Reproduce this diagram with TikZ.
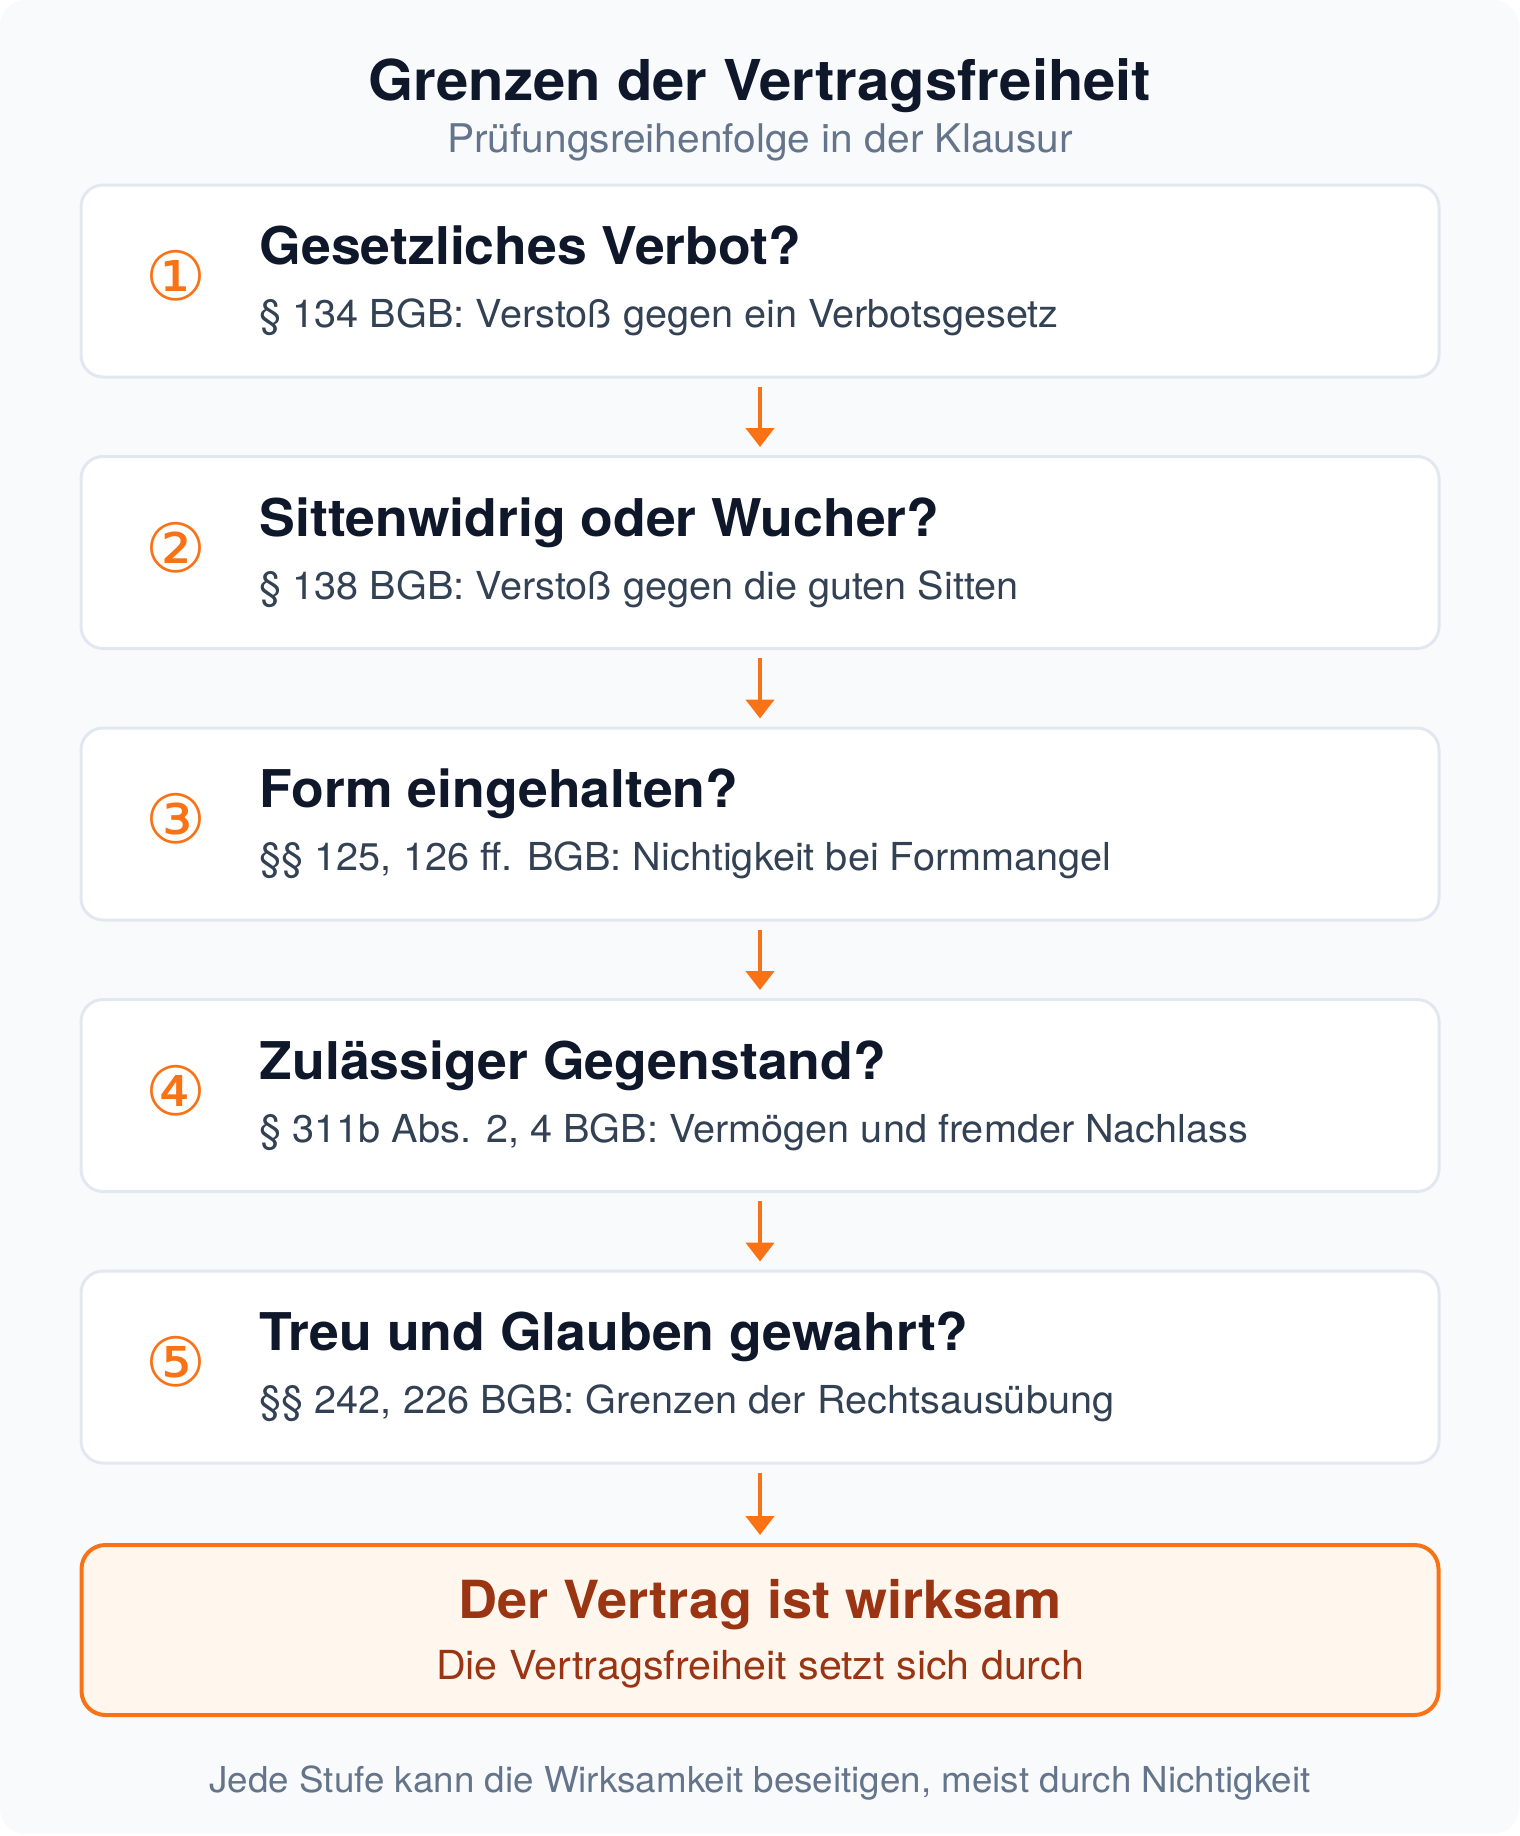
\documentclass[tikz,border=0pt]{standalone}
\usepackage{fontspec}
\setmainfont{TeX Gyre Heros}[FakeStretch=1.03]
\newfontfamily\circfont{DejaVu Sans}
\usetikzlibrary{positioning,arrows.meta}

\definecolor{pagebg}{HTML}{F8FAFC}
\definecolor{boxline}{HTML}{E2E8F0}
\definecolor{inkdark}{HTML}{0F172A}
\definecolor{inkgray}{HTML}{64748B}
\definecolor{inksub}{HTML}{334155}
\definecolor{accent}{HTML}{F97316}
\definecolor{resfill}{HTML}{FFF7ED}
\definecolor{resink}{HTML}{9A3412}

\tikzset{
  stepbox/.style={draw=boxline, line width=3pt, fill=white, rounded corners=22pt,
    minimum width=1358pt, minimum height=192pt, inner sep=0pt},
  resbox/.style={draw=accent, line width=4pt, fill=resfill, rounded corners=24pt,
    minimum width=1357pt, minimum height=170pt, inner sep=0pt},
  stepnum/.style={inner sep=0pt, text=accent, font=\circfont\fontsize{68}{72}\selectfont},
  steptitle/.style={inner sep=0pt, anchor=base west, text=inkdark, font=\bfseries\fontsize{52}{60}\selectfont},
  steptext/.style={inner sep=0pt, anchor=base west, text=inksub, font=\fontsize{38.5}{44}\selectfont},
  flowarrow/.style={draw=accent, line width=4.5pt, shorten <=8pt, shorten >=8pt,
    -{Triangle[width=28pt,length=19pt]}}
}

\begin{document}
\begin{tikzpicture}[x=1pt,y=1pt,yscale=-1]
\useasboundingbox (0,0) rectangle (1520,1836);
% background
\fill[white] (0,0) rectangle (1520,1836);
\fill[pagebg, rounded corners=26pt] (0,0) rectangle (1519,1834);

% Text Node
\node[inner sep=0pt, anchor=base, text=inkdark, font=\bfseries\fontsize{56.3}{66}\selectfont] (title) at (760,100) {Grenzen der Vertragsfreiheit};
% Text Node
\node[inner sep=0pt, anchor=base, text=inkgray, font=\fontsize{39.5}{46}\selectfont] (subtitle) at (760,152) {Prüfungsreihenfolge in der Klausur};

% steps
\node[stepbox] (b1) at (760,281) {};
\node[stepbox, below=76.5pt of b1] (b2) {};
\node[stepbox, below=76.5pt of b2] (b3) {};
\node[stepbox, below=76.5pt of b3] (b4) {};
\node[stepbox, below=76.5pt of b4] (b5) {};
\node[resbox, below=78.5pt of b5] (res) {};

% numbers
\node[stepnum] (n1) at ([shift={(96.5,-5)}]b1.west) {①};
\node[stepnum] (n2) at ([shift={(96.5,-5)}]b2.west) {②};
\node[stepnum] (n3) at ([shift={(96.5,-5)}]b3.west) {③};
\node[stepnum] (n4) at ([shift={(96.5,-5)}]b4.west) {④};
\node[stepnum] (n5) at ([shift={(96.5,-5)}]b5.west) {⑤};

% step texts
\node[steptitle] (t1) at ([shift={(180,81)}]b1.north west) {Gesetzliches Verbot?};
\node[steptext] (s1) at ([shift={(180,144)}]b1.north west) {§ 134 BGB: Verstoß gegen ein Verbotsgesetz};
\node[steptitle] (t2) at ([shift={(180,81)}]b2.north west) {Sittenwidrig oder Wucher?};
\node[steptext] (s2) at ([shift={(180,144)}]b2.north west) {§ 138 BGB: Verstoß gegen die guten Sitten};
\node[steptitle] (t3) at ([shift={(180,81)}]b3.north west) {Form eingehalten?};
\node[steptext] (s3) at ([shift={(180,144)}]b3.north west) {§§ 125, 126 ff. BGB: Nichtigkeit bei Formmangel};
\node[steptitle] (t4) at ([shift={(180,81)}]b4.north west) {Zulässiger Gegenstand?};
\node[steptext] (s4) at ([shift={(180,144)}]b4.north west) {§ 311b Abs. 2, 4 BGB: Vermögen und fremder Nachlass};
\node[steptitle] (t5) at ([shift={(180,81)}]b5.north west) {Treu und Glauben gewahrt?};
\node[steptext] (s5) at ([shift={(180,144)}]b5.north west) {§§ 242, 226 BGB: Grenzen der Rechtsausübung};

% result
\node[inner sep=0pt, anchor=base, text=resink, font=\bfseries\fontsize{52.5}{60}\selectfont] (rt) at ([shift={(0,75)}]res.north) {Der Vertrag ist wirksam};
\node[inner sep=0pt, anchor=base, text=resink, font=\fontsize{40}{46}\selectfont] (rs) at ([shift={(0,136)}]res.north) {Die Vertragsfreiheit setzt sich durch};

% arrows
\draw[flowarrow] (b1) -- (b2);
\draw[flowarrow] (b2) -- (b3);
\draw[flowarrow] (b3) -- (b4);
\draw[flowarrow] (b4) -- (b5);
\draw[flowarrow] (b5) -- (res);

% Text Node
\node[inner sep=0pt, anchor=base, text=inkgray, font=\fontsize{35.7}{42}\selectfont] (foot) at (760,1792) {Jede Stufe kann die Wirksamkeit beseitigen, meist durch Nichtigkeit};

\end{tikzpicture}
\end{document}
